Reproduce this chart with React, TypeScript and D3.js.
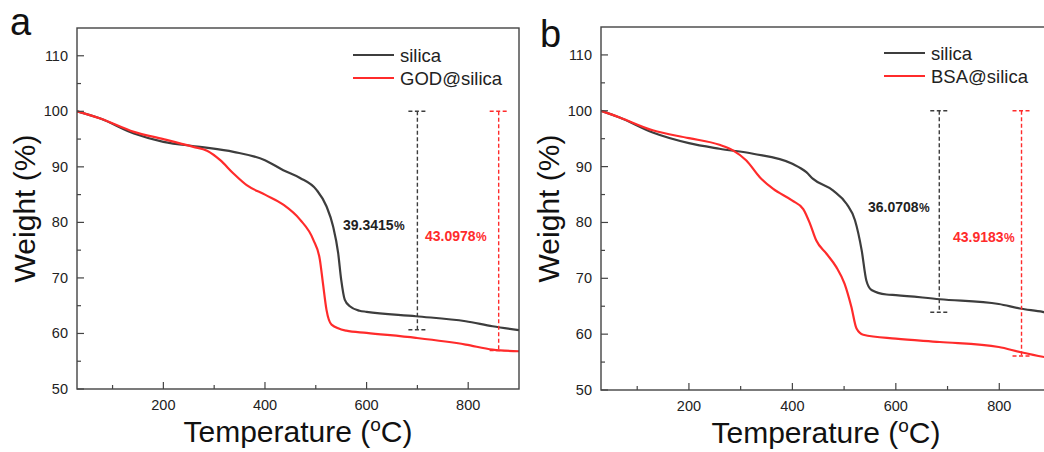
import React from "react";
import * as d3 from "d3";

// ---- data ----
const tempA_silica = [30, 76, 142, 200, 272, 338, 400, 436, 469, 501, 521, 534, 544, 550, 557, 567, 586, 600, 697, 795, 848, 900];
const weightA_silica = [100, 98.7, 96.0, 94.5, 93.6, 92.7, 91.2, 89.4, 88.0, 85.9, 82.9, 79.3, 74.5, 69.7, 66.1, 64.9, 64.1, 63.9, 63.1, 62.2, 61.3, 60.6];
const tempA_god = [30, 76, 142, 200, 259, 286, 312, 338, 364, 400, 436, 469, 495, 508, 514, 521, 531, 560, 600, 697, 795, 848, 900];
const weightA_god = [100, 98.7, 96.3, 95.0, 93.6, 92.9, 91.2, 88.8, 86.7, 85.0, 83.2, 80.5, 76.9, 73.3, 69.1, 64.3, 61.6, 60.5, 60.1, 59.2, 58.0, 57.1, 56.8];

const tempB_silica = [30, 66, 130, 200, 259, 324, 400, 427, 440, 479, 505, 521, 534, 543, 553, 582, 600, 685, 799, 840, 884, 900];
const weightB_silica = [100, 98.8, 96.1, 94.2, 93.2, 92.3, 90.5, 89.0, 87.8, 85.7, 83.3, 80.4, 75.0, 69.6, 67.9, 67.1, 67.0, 66.25, 65.4, 64.6, 64.0, 63.7];
const tempB_bsa = [30, 66, 130, 200, 259, 285, 311, 337, 363, 400, 421, 434, 446, 466, 485, 501, 514, 524, 537, 600, 685, 799, 840, 884, 900];
const weightB_bsa = [100, 98.8, 96.5, 95.1, 93.9, 92.9, 91.1, 88.1, 86.0, 83.9, 82.4, 79.8, 76.8, 74.4, 72.0, 69.0, 64.9, 61.0, 59.9, 59.2, 58.6, 57.7, 56.8, 55.95, 55.7];

const xMajorTicks = [200, 400, 600, 800];
const xMinorTicks = [100, 300, 500, 700];
const yMajorTicks = [50, 60, 70, 80, 90, 100, 110];
const yMinorTicks = [55, 65, 75, 85, 95, 105];

const panelLetters = ["a", "b"];
const legendA = ["silica", "GOD@silica"];
const legendB = ["silica", "BSA@silica"];
const lossA = [39.3415, 43.0978];
const lossB = [36.0708, 43.9183];
const lossTempA = [700, 860];
const lossTempB = [684, 843];
const lossLabelsA = ["39.3415", "43.0978"];
const lossLabelsB = ["36.0708", "43.9183"];

const BLACK = "#3d3d3d";
const RED = "#ff2b2b";
const FONT = "'Liberation Sans', Arial, Helvetica, sans-serif";

type PanelProps = {
  left: number; top: number; right: number; bottom: number;
  letter: string; letterX: number; letterY: number;
  series: { x: number[]; y: number[]; color: string }[];
  legend: string[];
  legendX: number; legendY: number;
  loss: number[]; lossTemp: number[]; lossLabels: string[];
  labelPos: { x: number; y: number }[];
  id: string;
};

function Panel(p: PanelProps) {
  const x = d3.scaleLinear().domain([30, 900]).range([p.left, p.right]);
  const y = d3.scaleLinear().domain([50, 115]).range([p.bottom, p.top]);
  const line = d3.line<[number, number]>()
    .x((d) => x(d[0]))
    .y((d) => y(d[1]))
    .curve(d3.curveMonotoneX);
  const colors = [BLACK, RED];
  const cx = (p.left + p.right) / 2;
  return (
    <g>
      <defs>
        <clipPath id={"clip" + p.id}>
          <rect x={p.left} y={p.top} width={p.right - p.left} height={p.bottom - p.top} />
        </clipPath>
      </defs>
      {/* series */}
      <g clipPath={`url(#clip${p.id})`}>
        {p.series.map((s, i) => (
          <path key={i} d={line(s.x.map((v, j) => [v, s.y[j]] as [number, number])) || ""}
            fill="none" stroke={s.color} strokeWidth={2.2} strokeLinejoin="round" />
        ))}
      </g>
      {/* loss annotations */}
      {p.loss.map((l, i) => {
        const xx = x(p.lossTemp[i]);
        const y0 = y(100);
        const y1 = y(100 - l);
        return (
          <g key={i} stroke={colors[i]} strokeWidth={1.4} strokeDasharray="4,2.5">
            <line x1={xx} x2={xx} y1={y0} y2={y1} />
            <line x1={xx - 9} x2={xx + 9} y1={y0} y2={y0} />
            <line x1={xx - 9} x2={xx + 9} y1={y1} y2={y1} />
          </g>
        );
      })}
      {p.lossLabels.map((t, i) => (
        <text key={i} x={p.labelPos[i].x} y={p.labelPos[i].y} fill={i === 0 ? "#222" : RED}
          fontFamily={FONT} fontSize={14} fontWeight="bold">
          {t}<tspan fontSize={12} dx={0.5}>%</tspan>
        </text>
      ))}
      {/* frame */}
      <rect x={p.left} y={p.top} width={p.right - p.left} height={p.bottom - p.top}
        fill="none" stroke="#444" strokeWidth={1.4} />
      {/* x ticks */}
      {xMajorTicks.map((t) => (
        <g key={"xm" + t}>
          <line x1={x(t)} x2={x(t)} y1={p.bottom} y2={p.bottom - 7} stroke="#444" strokeWidth={1.2} />
          <text x={x(t)} y={p.bottom + 21} textAnchor="middle" fontFamily={FONT} fontSize={14.5} fill="#222">{t}</text>
        </g>
      ))}
      {xMinorTicks.map((t) => (
        <line key={"xn" + t} x1={x(t)} x2={x(t)} y1={p.bottom} y2={p.bottom - 4} stroke="#444" strokeWidth={1.2} />
      ))}
      {/* y ticks */}
      {yMajorTicks.map((t) => (
        <g key={"ym" + t}>
          <line x1={p.left} x2={p.left + 7} y1={y(t)} y2={y(t)} stroke="#444" strokeWidth={1.2} />
          <text x={p.left - 9} y={y(t) + 5} textAnchor="end" fontFamily={FONT} fontSize={14.5} fill="#222">{t}</text>
        </g>
      ))}
      {yMinorTicks.map((t) => (
        <line key={"yn" + t} x1={p.left} x2={p.left + 4} y1={y(t)} y2={y(t)} stroke="#444" strokeWidth={1.2} />
      ))}
      {/* axis titles */}
      <text x={cx} y={p.bottom + 53} textAnchor="middle" fontFamily={FONT} fontSize={30} fill="#111">
        Temperature (<tspan fontSize={19} dy={-11}>o</tspan><tspan dy={11}>C)</tspan>
      </text>
      <text transform={`translate(${p.left - 42},${(p.top + p.bottom) / 2}) rotate(-90)`} textAnchor="middle"
        fontFamily={FONT} fontSize={30} fill="#111">Weight (%)</text>
      {/* panel letter */}
      <text x={p.letterX} y={p.letterY} fontFamily={FONT} fontSize={38} fill="#111">{p.letter}</text>
      {/* legend */}
      {p.legend.map((t, i) => (
        <g key={t}>
          <line x1={p.legendX} x2={p.legendX + 41} y1={p.legendY + i * 23} y2={p.legendY + i * 23}
            stroke={colors[i]} strokeWidth={2.2} />
          <text x={p.legendX + 47} y={p.legendY + i * 23 + 6.5} fontFamily={FONT} fontSize={18.5} fill="#222">{t}</text>
        </g>
      ))}
    </g>
  );
}

export default function App() {
  return (
    <svg width={1044} height={452} style={{ position: "absolute", left: 0, top: 0, background: "#fff" }}>
      <rect width={1044} height={452} fill="#fff" />
      <Panel id="a" left={77} top={28} right={519} bottom={389}
        letter={panelLetters[0]} letterX={10} letterY={35}
        series={[{ x: tempA_silica, y: weightA_silica, color: BLACK }, { x: tempA_god, y: weightA_god, color: RED }]}
        legend={legendA} legendX={353} legendY={55}
        loss={lossA} lossTemp={lossTempA} lossLabels={lossLabelsA}
        labelPos={[{ x: 343, y: 230 }, { x: 425, y: 241 }]} />
      <Panel id="b" left={601} top={27} right={1051} bottom={390}
        letter={panelLetters[1]} letterX={540} letterY={47}
        series={[{ x: tempB_silica, y: weightB_silica, color: BLACK }, { x: tempB_bsa, y: weightB_bsa, color: RED }]}
        legend={legendB} legendX={884} legendY={53}
        loss={lossB} lossTemp={lossTempB} lossLabels={lossLabelsB}
        labelPos={[{ x: 868, y: 212 }, { x: 953, y: 242 }]} />
    </svg>
  );
}
